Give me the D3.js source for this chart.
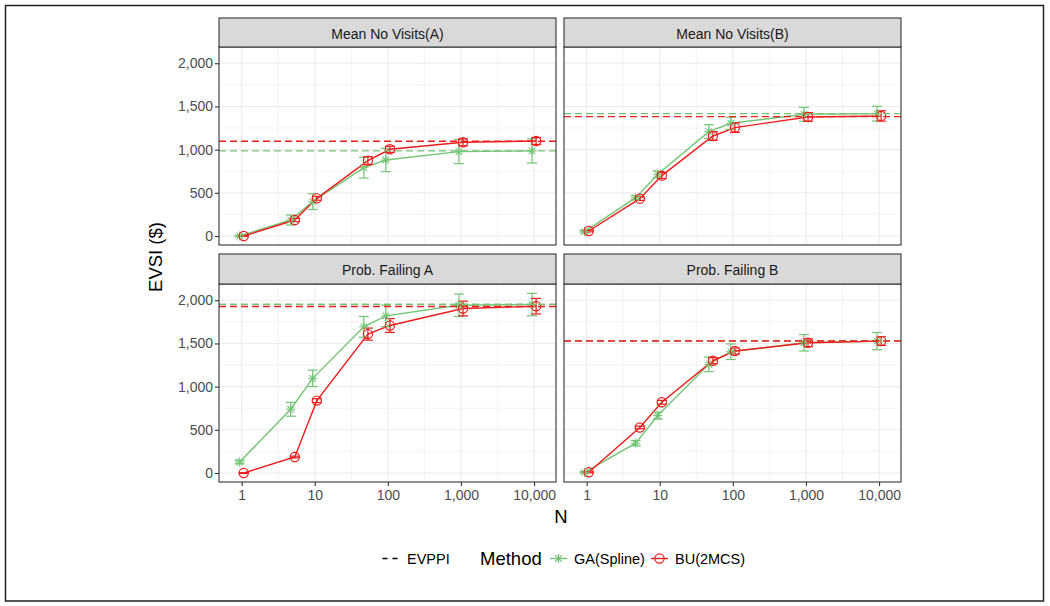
<!DOCTYPE html>
<html>
<head>
<meta charset="utf-8">
<script src="https://cdn.jsdelivr.net/npm/d3@7"></script>
<style>
  html, body { margin: 0; padding: 0; background: #fff; }
  svg { display: block; font-family: "Liberation Sans", Arial, sans-serif; }
</style>
</head>
<body>
<svg id="chart" width="1050" height="606"></svg>
<script>
// ---------------- data ----------------
const sampleSizes = [1, 5, 10, 50, 100, 1000, 10000];
const panelTitles = ["Mean No Visits(A)", "Mean No Visits(B)", "Prob. Failing A", "Prob. Failing B"];
const yTicks = [0, 500, 1000, 1500, 2000];
const xTicks = [1, 10, 100, 1000, 10000];
const methodNames = ["GA(Spline)", "BU(2MCS)"];

// GA (Spline) EVSI estimates, one row per panel
const gaEVSI = [
  [0, 185, 398, 791, 880, 977, 985],
  [50, 444, 714, 1208, 1305, 1409, 1417],
  [127, 738, 1096, 1692, 1819, 1942, 1950],
  [8, 346, 665, 1258, 1404, 1508, 1527]
];
// GA error bar half-widths
const gaErr = [
  [8, 58, 90, 120, 135, 140, 140],
  [15, 22, 40, 80, 70, 80, 85],
  [20, 80, 95, 120, 125, 130, 130],
  [10, 30, 40, 85, 90, 95, 100]
];
// BU (2MCS) EVSI estimates
const buEVSI = [
  [0, 185, 436, 873, 1004, 1085, 1100],
  [58, 432, 699, 1158, 1255, 1378, 1390],
  [0, 185, 838, 1608, 1708, 1904, 1931],
  [8, 527, 819, 1300, 1412, 1508, 1527]
];
// BU error bar half-widths
const buErr = [
  [5, 18, 22, 45, 35, 40, 40],
  [10, 20, 35, 50, 55, 50, 60],
  [5, 10, 22, 70, 80, 85, 90],
  [5, 15, 22, 35, 35, 45, 50]
];
// EVPPI reference levels per panel
const gaEVPPI = [985, 1417, 1954, 1532];
const buEVPPI = [1097, 1382, 1927, 1529];

// ---------------- styles ----------------
const GREEN = "#74C476";
const RED = "#EE1C1C";
const GRID = "#EBEBEB";
const DARK = "#333333";

const svg = d3.select("#chart");

// outer frame
svg.append("rect").attr("x", 5.5).attr("y", 5.5).attr("width", 1038).attr("height", 595.5)
  .attr("fill", "none").attr("stroke", "#222").attr("stroke-width", 1.5);

const colX = [219, 564], panelW = 337;
const stripTop = [18, 254], plotTop = [47, 284], plotH = 198;

const dodge = 0.028; // decades

const series = [
  { name: methodNames[0], vals: gaEVSI, err: gaErr, evppi: gaEVPPI, color: GREEN, shape: "star", off: -dodge },
  { name: methodNames[1], vals: buEVSI, err: buErr, evppi: buEVPPI, color: RED, shape: "circle", off: dodge }
];

function drawStar(g, cx, cy, color) {
  const r = 4.6, d = r * Math.SQRT1_2;
  const p = g.append("g").attr("stroke", color).attr("stroke-width", 1.1).attr("fill", "none");
  p.append("line").attr("x1", cx - r).attr("x2", cx + r).attr("y1", cy).attr("y2", cy);
  p.append("line").attr("x1", cx).attr("x2", cx).attr("y1", cy - r).attr("y2", cy + r);
  p.append("line").attr("x1", cx - d).attr("x2", cx + d).attr("y1", cy - d).attr("y2", cy + d);
  p.append("line").attr("x1", cx - d).attr("x2", cx + d).attr("y1", cy + d).attr("y2", cy - d);
}
function drawCircle(g, cx, cy, color) {
  g.append("circle").attr("cx", cx).attr("cy", cy).attr("r", 4.6)
    .attr("fill", "none").attr("stroke", color).attr("stroke-width", 1.2);
}

panelTitles.forEach((title, pi) => {
  const col = pi % 2, row = Math.floor(pi / 2);
  const x0 = colX[col], y0 = plotTop[row];
  const x = d3.scaleLog().domain([Math.pow(10, -0.31), Math.pow(10, 4.30)]).range([x0, x0 + panelW]);
  const y = d3.scaleLinear().domain([-104, 2188]).range([y0 + plotH, y0]);

  const g = svg.append("g");
  g.append("rect").attr("x", x0).attr("y", y0).attr("width", panelW).attr("height", plotH).attr("fill", "#fff");

  // minor grid
  const minorY = [250, 750, 1250, 1750];
  const minorX = [0.5, 1.5, 2.5, 3.5].map(e => Math.pow(10, e));
  g.selectAll(".mny").data(minorY).enter().append("line")
    .attr("x1", x0).attr("x2", x0 + panelW).attr("y1", d => y(d)).attr("y2", d => y(d))
    .attr("stroke", GRID).attr("stroke-width", 0.6);
  g.selectAll(".mnx").data(minorX).enter().append("line")
    .attr("y1", y0).attr("y2", y0 + plotH).attr("x1", d => x(d)).attr("x2", d => x(d))
    .attr("stroke", GRID).attr("stroke-width", 0.6);
  // major grid
  g.selectAll(".mjy").data(yTicks).enter().append("line")
    .attr("x1", x0).attr("x2", x0 + panelW).attr("y1", d => y(d)).attr("y2", d => y(d))
    .attr("stroke", GRID).attr("stroke-width", 1.1);
  g.selectAll(".mjx").data(xTicks).enter().append("line")
    .attr("y1", y0).attr("y2", y0 + plotH).attr("x1", d => x(d)).attr("x2", d => x(d))
    .attr("stroke", GRID).attr("stroke-width", 1.1);

  // series lines
  series.forEach(s => {
    const pts = sampleSizes.map((n, i) => [x(n * Math.pow(10, s.off)), y(s.vals[pi][i])]);
    g.append("path").attr("d", d3.line()(pts)).attr("fill", "none")
      .attr("stroke", s.color).attr("stroke-width", 1.4);
  });
  // error bars
  series.forEach(s => {
    sampleSizes.forEach((n, i) => {
      const cx = x(n * Math.pow(10, s.off));
      const lo = y(s.vals[pi][i] - s.err[pi][i]), hi = y(s.vals[pi][i] + s.err[pi][i]);
      const eg = g.append("g").attr("stroke", s.color).attr("stroke-width", 1.2);
      eg.append("line").attr("x1", cx).attr("x2", cx).attr("y1", lo).attr("y2", hi);
      eg.append("line").attr("x1", cx - 5).attr("x2", cx + 5).attr("y1", lo).attr("y2", lo);
      eg.append("line").attr("x1", cx - 5).attr("x2", cx + 5).attr("y1", hi).attr("y2", hi);
    });
  });
  // points
  series.forEach(s => {
    sampleSizes.forEach((n, i) => {
      const cx = x(n * Math.pow(10, s.off)), cy = y(s.vals[pi][i]);
      if (s.shape === "star") drawStar(g, cx, cy, s.color); else drawCircle(g, cx, cy, s.color);
    });
  });
  // EVPPI dashed lines
  series.forEach(s => {
    g.append("line").attr("x1", x0).attr("x2", x0 + panelW)
      .attr("y1", y(s.evppi[pi])).attr("y2", y(s.evppi[pi]))
      .attr("stroke", s.color).attr("stroke-width", 1.4).attr("stroke-dasharray", "7,4");
  });

  // panel border
  g.append("rect").attr("x", x0).attr("y", y0).attr("width", panelW).attr("height", plotH)
    .attr("fill", "none").attr("stroke", DARK).attr("stroke-width", 1.1);

  // strip
  const st = stripTop[row];
  g.append("rect").attr("x", x0).attr("y", st).attr("width", panelW).attr("height", y0 - st)
    .attr("fill", "#D9D9D9").attr("stroke", DARK).attr("stroke-width", 1.1);
  g.append("text").attr("x", x0 + panelW / 2).attr("y", st + 21).attr("text-anchor", "middle")
    .attr("font-size", "14px").attr("fill", "#1A1A1A").text(title);

  // axes
  if (col === 0) {
    const ax = g.append("g").attr("transform", `translate(${x0},0)`)
      .call(d3.axisLeft(y).tickValues(yTicks).tickFormat(d3.format(",")).tickSize(4).tickPadding(2));
    ax.select(".domain").remove();
    ax.selectAll(".tick line").attr("stroke", DARK).attr("stroke-width", 1.1);
    ax.selectAll(".tick text").attr("fill", "#4D4D4D").attr("font-size", "14px")
      .attr("font-family", "Liberation Sans, Arial, sans-serif");
  }
  if (row === 1) {
    const ax = g.append("g").attr("transform", `translate(0,${y0 + plotH})`)
      .call(d3.axisBottom(x).tickValues(xTicks).tickFormat(d3.format(",")).tickSize(4).tickPadding(4));
    ax.select(".domain").remove();
    ax.selectAll(".tick line").attr("stroke", DARK).attr("stroke-width", 1.1);
    ax.selectAll(".tick text").attr("fill", "#4D4D4D").attr("font-size", "14px")
      .attr("font-family", "Liberation Sans, Arial, sans-serif");
  }
});

// axis titles
svg.append("text").attr("transform", "translate(161.5,257) rotate(-90)").attr("text-anchor", "middle")
  .attr("font-size", "18.5px").attr("fill", "#000").text("EVSI ($)");
svg.append("text").attr("x", 561).attr("y", 523).attr("text-anchor", "middle")
  .attr("font-size", "18.5px").attr("fill", "#000").text("N");

// legend
const ly = 558.5;
const leg = svg.append("g");
leg.append("line").attr("x1", 382.5).attr("x2", 398).attr("y1", ly).attr("y2", ly)
  .attr("stroke", "#000").attr("stroke-width", 1.4).attr("stroke-dasharray", "5,5");
leg.append("text").attr("x", 407).attr("y", 564).attr("font-size", "14.5px").attr("fill", "#000").text("EVPPI");
leg.append("text").attr("x", 480).attr("y", 565).attr("font-size", "18.5px").attr("fill", "#000").text("Method");
const keyX = [550, 651], labX = [574, 675];
series.forEach((s, i) => {
  leg.append("line").attr("x1", keyX[i]).attr("x2", keyX[i] + 17).attr("y1", ly).attr("y2", ly)
    .attr("stroke", s.color).attr("stroke-width", 1.4);
  if (s.shape === "star") drawStar(leg, keyX[i] + 8.5, ly, s.color); else drawCircle(leg, keyX[i] + 8.5, ly, s.color);
  leg.append("text").attr("x", labX[i]).attr("y", 564).attr("font-size", "14.5px").attr("fill", "#000").text(s.name);
});
</script>
</body>
</html>
